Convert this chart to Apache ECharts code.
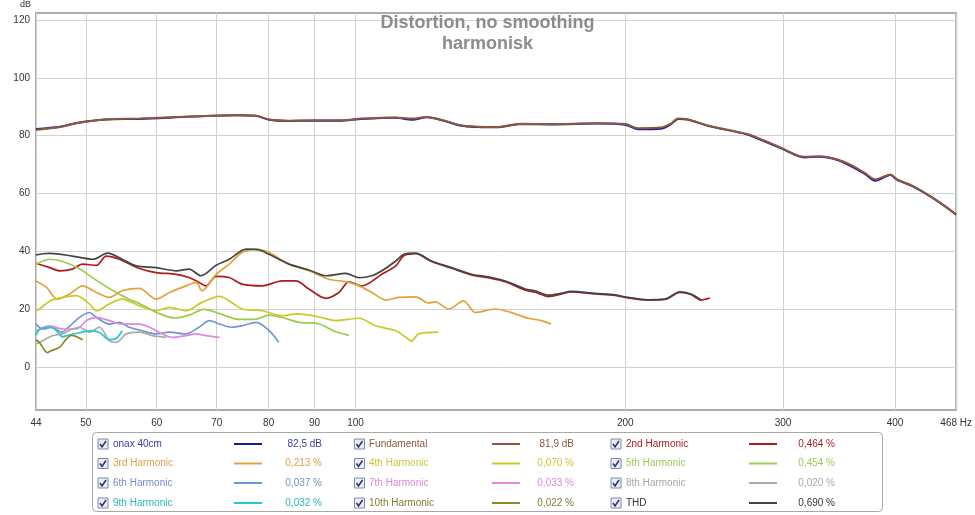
<!DOCTYPE html>
<html><head><meta charset="utf-8">
<script src="https://cdn.jsdelivr.net/npm/echarts@6/dist/echarts.min.js"></script>
<style>html,body{margin:0;padding:0;background:#fff}#c{width:975px;height:515px}</style>
</head><body><div id="c"></div>
<script>
// ---- tick labels ----
const xTicks = [44, 50, 60, 70, 80, 90, 100, 200, 300, 400, 468];
const xTickLabels = ['44', '50', '60', '70', '80', '90', '100', '200', '300', '400', '468 Hz'];
const yTicks = [0, 20, 40, 60, 80, 100, 120];

// ---- legend ----
const seriesNames = ['onax 40cm', 'Fundamental', '2nd Harmonic', '3rd Harmonic', '4th Harmonic', '5th Harmonic',
  '6th Harmonic', '7th Harmonic', '8th Harmonic', '9th Harmonic', '10th Harmonic', 'THD'];
const seriesColors = ['#1c1c9a', '#8b5a3c', '#b01c1c', '#e3a23a', '#c9c92a', '#9ccb4a',
  '#6f96d2', '#dd88dd', '#aaaaaa', '#22cccc', '#8a8a22', '#444444'];
const textColors = ['#3a3aa8', '#8b5a3c', '#b01c1c', '#dba24a', '#c8c83a', '#9ccb5a',
  '#6f8fc8', '#d68ad6', '#a8a8a8', '#2ab8b8', '#80802a', '#333333'];
const legendValues = ['82,5 dB', '81,9 dB', '0,464 %', '0,213 %', '0,070 %', '0,454 %',
  '0,037 %', '0,033 %', '0,020 %', '0,032 %', '0,022 %', '0,690 %'];

// ---- series values [Hz, dB] ----
const onax = [[44,82.3],[46.8,83.1],[49.0,84.5],[52.6,85.6],[57.4,85.8],[65.6,86.6],[73.8,87.1],[77.4,86.9],[80.1,85.5],[84,85.1],[89.3,85.2],[95.8,85.2],[101.6,85.8],[110.8,86.2],[115.7,85.5],[120.1,86.4],[126,85.0],[131.3,83.4],[137,83.0],[143.3,82.9],[153.1,84.0],[165,83.9],[186.5,84.2],[200,83.8],[206.7,82.2],[219,82.4],[225,84.0],[229,85.8],[234.8,85.6],[247.3,83.4],[267,81.2],[276.3,80.0],[298.6,75.6],[316.9,72.5],[329.4,72.7],[345,71.6],[356.6,69.6],[369.7,66.9],[380.3,64.4],[395.2,66.4],[402.3,64.7],[420.1,62.2],[437.8,59.0],[453.6,55.8],[468,52.7]];
const fundamental = [[44,82.0],[46.8,83.0],[49.0,84.4],[52.6,85.6],[57.4,85.9],[65.6,86.6],[73.8,87.1],[77.4,86.9],[80.1,85.6],[84,85.2],[89.3,85.3],[95.8,85.3],[101.6,85.9],[110.8,86.3],[115.7,85.9],[120.1,86.5],[126,85.1],[131.3,83.5],[137,83.1],[143.3,83.0],[153.1,84.1],[165,84.0],[186.5,84.3],[200,84.0],[206.7,82.6],[219,82.8],[225,84.2],[229,85.9],[234.8,85.6],[247.3,83.5],[267,81.3],[276.3,80.2],[298.6,75.8],[316.9,72.7],[329.4,72.9],[345,71.8],[356.6,70.0],[369.7,67.2],[380.3,64.9],[395.2,66.6],[402.3,64.9],[420.1,62.4],[437.8,59.1],[453.6,55.9],[468,52.8]];
const h2 = [[44,35.9],[45.6,34.4],[46.8,33.3],[48.3,33.9],[49.6,35.6],[51.4,35.2],[52.7,38.4],[54.5,37.3],[57.4,34.1],[59.9,32.7],[63.1,32.1],[65.2,31.0],[66.9,29.3],[68.1,28.1],[69.9,31.4],[72.3,31.0],[74.7,28.7],[78.7,28.1],[82.8,29.8],[85.8,29.8],[88.7,27.0],[92.7,23.8],[95.8,25.8],[98.3,29.5],[101.6,28.1],[107.0,32.1],[110.9,35.0],[113.2,38.5],[116.7,39.2],[121.6,36.5],[128,34.2],[134.7,31.9],[141.8,30.7],[147,29.5],[154.7,26.6],[158.7,25.9],[164.1,24.4],[169.6,25.2],[174,26.0],[185.1,25.3],[194.8,24.8],[201.4,23.9],[212,23.2],[221.4,23.4],[230.1,25.8],[236.7,25.1],[242.8,23.2],[248.5,23.9]];
const h3 = [[44,29.8],[45.2,27.6],[46.5,23.5],[48.0,25.3],[49.6,28.1],[51.4,25.8],[53.1,24.1],[54.9,26.4],[57.4,27.2],[59.9,23.5],[62.0,25.8],[64.7,28.1],[66.4,29.3],[67.4,26.4],[69.9,32.1],[72.3,35.6],[74.7,39.6],[77.5,40.8],[80.1,39.6],[84.3,35.6],[88.7,33.3],[93.4,30.4],[97.8,29.5],[100.9,28.1],[104.3,25.8],[108.1,23.2],[111.7,24.1],[116.7,24.3],[120.7,22.2],[122.8,22.6],[127.0,20.1],[132.0,22.9],[136.1,18.9],[143.2,20.1],[148.1,19.2],[155.9,16.9],[161.2,16.1],[165.3,14.9]];
const h4 = [[44,19.5],[44.4,20.1],[45.6,22.9],[47.1,24.1],[48.8,24.7],[50.5,21.8],[51.4,19.5],[53.1,21.8],[54.9,23.5],[57.4,21.2],[59.9,19.5],[62.0,20.7],[64.7,19.5],[67.4,22.4],[70.5,24.5],[72.3,22.9],[74.7,20.1],[78.7,19.5],[82.8,17.8],[85.8,18.4],[90.3,17.6],[95.1,16.1],[100.9,16.9],[105.3,14.3],[110.9,12.6],[113.8,10.3],[115.5,9.0],[117.6,11.5],[123.8,12.1]];
const h5 = [[44,35.6],[45.6,37.3],[47.1,36.5],[49.2,34.0],[51.4,30.0],[53.6,26.5],[55.9,23.5],[57.4,22.0],[60.4,18.5],[62.8,17.0],[65.2,18.0],[67.8,20.0],[70.5,18.5],[74.2,16.5],[77.1,16.5],[80.1,18.0],[83.2,17.0],[86.5,15.5],[91.0,15.0],[94.6,12.5],[98.3,11.0]];
const h6 = [[44,14.9],[44.8,13.2],[45.9,13.8],[47.0,12.1],[48.0,14.3],[49.2,17.2],[50.5,18.9],[51.4,17.2],[53.1,14.9],[54.5,15.5],[55.9,13.8],[57.8,12.6],[59.9,11.5],[62.0,12.1],[64.7,11.5],[66.9,13.8],[68.7,16.1],[70.5,14.9],[72.8,13.8],[74.7,14.3],[77.5,15.5],[80.1,12.6],[82.1,8.6]];
const h7 = [[44,12.5],[45.6,14.3],[47.1,13.2],[48.8,13.2],[50.1,16.1],[51.4,17.2],[53.1,16.1],[54.9,14.9],[57.4,14.9],[58.9,13.8],[60.9,11.5],[62.5,10.3],[64.7,10.9],[66.4,11.5],[68.1,10.9],[70.5,10.3]];
const h8 = [[44,8.0],[44.8,9.2],[45.9,10.9],[47.1,11.5],[48.3,13.2],[49.2,13.8],[50.5,12.1],[51.8,13.8],[53.1,9.2],[54.1,8.6],[55.5,11.5],[57.4,12.1],[59.3,10.9],[61.5,10.3]];
const h9 = [[44,11.0],[44.4,13.0],[45.6,13.8],[46.4,12.6],[47.1,10.5],[48.0,11.2],[49.6,12.1],[50.5,12.6],[51.8,12.0],[53.1,9.5],[54.1,10.0],[54.9,12.6]];
const h10 = [[44,9.5],[44.4,8.5],[45.3,5.0],[45.6,5.5],[46.8,7.0],[47.5,9.5],[48.2,11.0],[49.6,9.5]];
const thd = [[44,38.8],[44.8,39.2],[45.6,39.3],[48.3,38.4],[50.9,37.3],[52.9,39.4],[54.9,37.3],[56.95,35.0],[59.9,34.4],[63.1,33.3],[65.2,33.9],[67.2,31.6],[69.9,35.2],[72.3,37.3],[75.5,40.8],[78.1,40.5],[80.1,39.0],[84.3,35.6],[88.7,33.6],[92.7,31.6],[97.5,32.4],[100.9,30.9],[104.3,31.6],[107.0,33.3],[110.9,36.7],[113.2,39.0],[116.7,39.4],[121.6,36.7],[128.0,34.4],[134.7,32.1],[141.8,31.0],[147.0,29.8],[154.7,27.0],[158.7,26.4],[164.1,24.9],[169.6,25.5],[174.0,26.2],[185.1,25.5],[194.8,25.0],[201.4,24.1],[212.0,23.3],[221.4,23.5],[230.1,26.0],[236.7,25.3],[242.8,23.3]];

const allData = [onax, fundamental, h2, h3, h4, h5, h6, h7, h8, h9, h10, thd];

const FONT = "'Liberation Sans', Arial, sans-serif";
const lg = Math.log10;
const xMin = lg(44), xMax = lg(468);

const series = allData.map((d, i) => ({
  name: seriesNames[i],
  type: 'line',
  data: d.map(p => [lg(p[0]), p[1]]),
  showSymbol: false,
  smooth: 0.3,
  lineStyle: { color: seriesColors[i], width: i < 2 ? 2 : 1.7 },
  itemStyle: { color: seriesColors[i] },
  silent: true,
  animation: false,
  z: 2 + i
}));

// legend drawn as graphics
const colCb = [103, 359.5, 616];
const colName = [113, 369, 626];
const colLine = [[234, 262], [492, 520], [749, 777]];
const colVal = [322, 574, 835];
const rowY = [444, 463.5, 483, 503];
const graphics = [
  { type: 'rect', shape: { x: 92.5, y: 432.5, width: 790, height: 79, r: 4 },
    style: { fill: '#fff', stroke: '#a8a8a8', lineWidth: 1 }, z: 10 },
  { type: 'text', x: 20, y: 0, style: { text: 'dB', font: '9px ' + FONT, fill: '#333' }, z: 10 }
];
seriesNames.forEach((n, i) => {
  const r = Math.floor(i / 3), c = i % 3;
  const cy = rowY[r], cx = colCb[c];
  graphics.push({ type: 'rect', shape: { x: cx - 5, y: cy - 5, width: 10, height: 10 },
    style: { fill: '#e9edf6', stroke: '#7d8aae', lineWidth: 1 }, z: 11 });
  graphics.push({ type: 'polyline', shape: { points: [[cx - 3, cy], [cx - 1, cy + 3], [cx + 3, cy - 3]] },
    style: { stroke: '#26345e', lineWidth: 1.5, fill: null }, z: 12 });
  graphics.push({ type: 'text', x: colName[c], y: cy, style: { text: n, font: '10px ' + FONT, fill: textColors[i], verticalAlign: 'middle' }, z: 11 });
  graphics.push({ type: 'line', shape: { x1: colLine[c][0], y1: cy, x2: colLine[c][1], y2: cy },
    style: { stroke: seriesColors[i], lineWidth: 2 }, z: 11 });
  graphics.push({ type: 'text', x: colVal[c], y: cy, style: { text: legendValues[i], font: '10px ' + FONT, fill: textColors[i], align: 'right', verticalAlign: 'middle' }, z: 11 });
});

const chart = echarts.init(document.getElementById('c'), null, { renderer: 'canvas' });
chart.setOption({
  animation: false,
  backgroundColor: '#fff',
  title: {
    text: 'Distortion, no smoothing\nharmonisk',
    left: 'center', top: 8,
    textStyle: { fontFamily: FONT, fontSize: 18, fontWeight: 'bold', color: '#8c8c8c', lineHeight: 21 }
  },
  grid: { left: 36, right: 16, top: 13, bottom: 105, show: true, borderColor: '#acacac', borderWidth: 2, containLabel: false },
  xAxis: {
    type: 'value', min: xMin, max: xMax,
    axisLine: { show: false },
    axisTick: { show: false, customValues: xTicks.map(lg) },
    axisLabel: {
      customValues: xTicks.map(lg), margin: 8,
      fontFamily: FONT, fontSize: 10, color: '#333',
      formatter: v => {
        let best = 0;
        xTicks.forEach((t, i) => { if (Math.abs(lg(t) - v) < Math.abs(lg(xTicks[best]) - v)) best = i; });
        return xTickLabels[best];
      }
    },
    splitLine: { show: true, lineStyle: { color: '#d2d2d2', width: 1 } }
  },
  yAxis: {
    type: 'value', min: -14.8, max: 122.4,
    axisLine: { show: false },
    axisTick: { show: false, customValues: yTicks },
    axisLabel: { customValues: yTicks, margin: 6, fontFamily: FONT, fontSize: 10, color: '#333' },
    splitLine: { show: true, lineStyle: { color: '#d2d2d2', width: 1 } }
  },
  series: series,
  graphic: graphics
});
</script>
</body></html>
